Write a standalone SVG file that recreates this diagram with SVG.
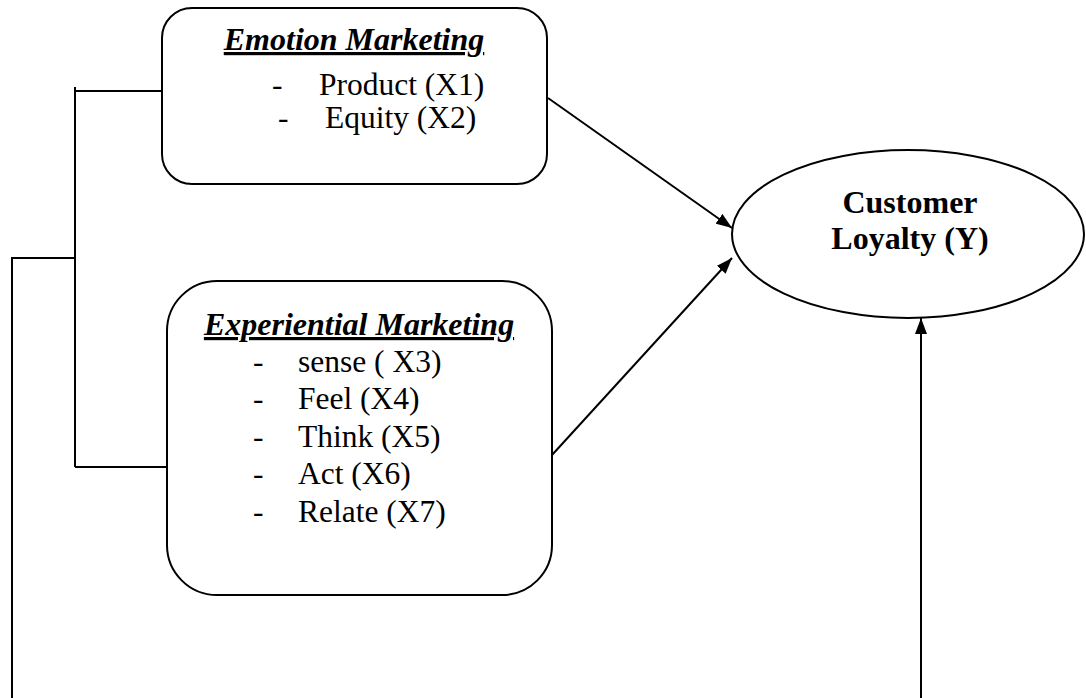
<svg xmlns="http://www.w3.org/2000/svg" width="1086" height="698" viewBox="0 0 1086 698">
<defs>
<marker id="ah" markerWidth="16" markerHeight="12" refX="16" refY="6" orient="auto" markerUnits="userSpaceOnUse" viewBox="0 0 16 12">
<path d="M0,0 L16,6 L0,12 z" fill="#000"/>
</marker>
<style>
.box{fill:#fff;stroke:#000;stroke-width:2}
.ln{fill:none;stroke:#000;stroke-width:2}
.t{font-family:"Liberation Serif","Times New Roman",serif;fill:#000}
.ti{font-size:32px;font-weight:bold;font-style:italic;text-decoration:underline}
.it{font-size:31.5px}
.b{font-size:32px;font-weight:bold}
</style>
</defs>
<rect width="1086" height="698" fill="#fff"/>
<g id="connectors">
<polyline class="ln" points="75,87 75,467"/>
<line class="ln" x1="75" y1="91" x2="162" y2="91"/>
<line class="ln" x1="75" y1="467" x2="167" y2="467"/>
<polyline class="ln" points="12,698 12,258 75,258"/>
<line class="ln" x1="548" y1="98" x2="732" y2="228" marker-end="url(#ah)"/>
<line class="ln" x1="552" y1="455" x2="732" y2="258" marker-end="url(#ah)"/>
<line class="ln" x1="921" y1="698" x2="921" y2="318" marker-end="url(#ah)"/>
</g>
<g id="emotion">
<rect class="box" x="162" y="8" width="385" height="176" rx="30" ry="30"/>
<text class="t ti" x="354" y="50" text-anchor="middle">Emotion Marketing</text>
<text class="t it" x="272" y="95">-</text>
<text class="t it" x="319" y="95">Product (X1)</text>
<text class="t it" x="278" y="128">-</text>
<text class="t it" x="325" y="128">Equity (X2)</text>
</g>
<g id="experiential">
<rect class="box" x="167" y="281" width="385" height="314" rx="50" ry="50"/>
<text class="t ti" x="359" y="335" text-anchor="middle">Experiential Marketing</text>
<text class="t it" x="253" y="372">-</text>
<text class="t it" x="298" y="372">sense ( X3)</text>
<text class="t it" x="253" y="409">-</text>
<text class="t it" x="298" y="409">Feel (X4)</text>
<text class="t it" x="253" y="447">-</text>
<text class="t it" x="298" y="447">Think (X5)</text>
<text class="t it" x="253" y="484">-</text>
<text class="t it" x="298" y="484">Act (X6)</text>
<text class="t it" x="253" y="522">-</text>
<text class="t it" x="298" y="522">Relate (X7)</text>
</g>
<g id="loyalty">
<ellipse class="box" cx="908" cy="234" rx="176" ry="84"/>
<text class="t b" x="910" y="213" text-anchor="middle">Customer</text>
<text class="t b" x="910" y="249" text-anchor="middle">Loyalty (Y)</text>
</g>
</svg>
